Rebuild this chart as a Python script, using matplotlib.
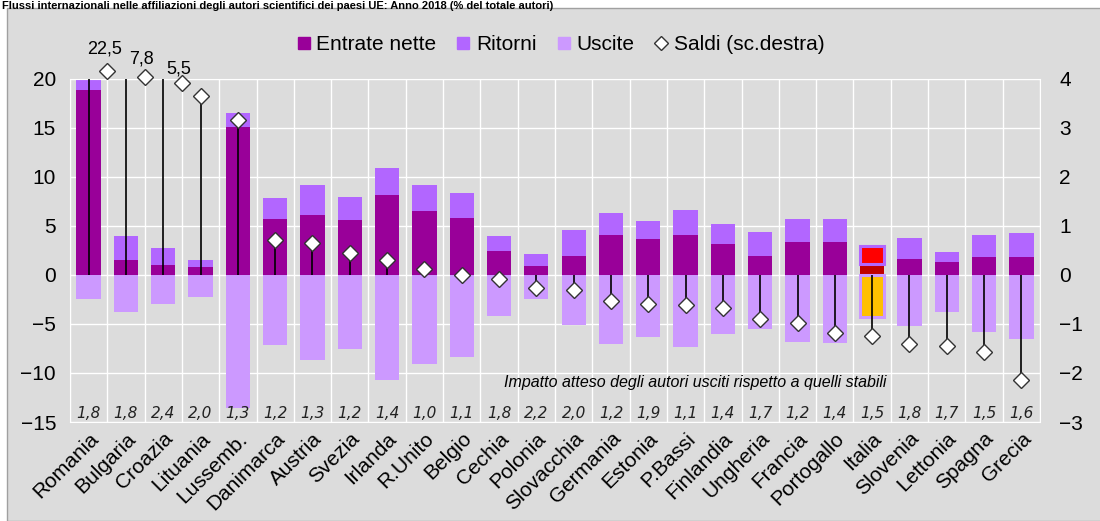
import matplotlib.pyplot as plt
import numpy as np
from matplotlib.lines import Line2D
from matplotlib.patches import Rectangle

plt.rcParams['font.family'] = ['Liberation Sans', 'DejaVu Sans']

# valori (% del totale autori)
paesi = ['Romania', 'Bulgaria', 'Croazia', 'Lituania', 'Lussemb.', 'Danimarca', 'Austria',
         'Svezia', 'Irlanda', 'R.Unito', 'Belgio', 'Cechia', 'Polonia', 'Slovacchia',
         'Germania', 'Estonia', 'P.Bassi', 'Finlandia', 'Ungheria', 'Francia', 'Portogallo',
         'Italia', 'Slovenia', 'Lettonia', 'Spagna', 'Grecia']
entrate = [18.8, 1.5, 1.0, 0.75, 15.1, 5.7, 6.1, 5.6, 8.1, 6.5, 5.8, 2.4, 0.9, 1.9,
           4.1, 3.6, 4.1, 3.1, 1.9, 3.3, 3.3, 1.1, 1.6, 1.3, 1.8, 1.8]
ritorni = [2.0, 2.5, 1.7, 0.75, 1.4, 2.1, 3.1, 2.3, 2.8, 2.6, 2.5, 1.6, 1.2, 2.7,
           2.2, 1.9, 2.5, 2.1, 2.5, 2.4, 2.4, 1.8, 2.1, 1.0, 2.3, 2.45]
uscite = [-2.5, -3.8, -3.0, -2.25, -13.6, -7.2, -8.65, -7.6, -10.7, -9.05, -8.4, -4.2, -2.5, -5.1,
          -7.1, -6.3, -7.35, -6.0, -5.55, -6.8, -6.95, -4.3, -5.25, -3.8, -5.8, -6.55]
saldi = [22.5, 7.8, 5.5, 3.65, 3.15, 0.7, 0.65, 0.45, 0.3, 0.12, 0.0, -0.08, -0.26, -0.3,
         -0.54, -0.59, -0.62, -0.67, -0.91, -0.99, -1.18, -1.25, -1.41, -1.46, -1.57, -2.15]
rapporti = ['1,8', '1,8', '2,4', '2,0', '1,3', '1,2', '1,3', '1,2', '1,4', '1,0', '1,1', '1,8', '2,2',
            '2,0', '1,2', '1,9', '1,1', '1,4', '1,7', '1,2', '1,4', '1,5', '1,8', '1,7', '1,5', '1,6']

C_ENT, C_RIT, C_USC = '#990099', '#b266ff', '#cc99ff'
BG = '#dcdcdc'
x = np.arange(len(paesi))
w = 0.65
ita = paesi.index('Italia')

fig = plt.figure(figsize=(11, 5.21), dpi=100)
fig.patches.append(Rectangle((7 / 1100, 0), 1.0, 1 - 8 / 521, transform=fig.transFigure,
                             facecolor=BG, edgecolor='#a0a0a0', lw=1, zorder=-10))
fig.text(0.002, 0.999, 'Flussi internazionali nelle affiliazioni degli autori scientifici dei paesi UE: '
         'Anno 2018 (% del totale autori)', fontsize=8, fontweight='bold', va='top')

ax = fig.add_axes([0.0636, 0.190, 0.8819, 0.6593])
ax.set_facecolor(BG)

ent_col = [C_ENT] * len(x)
rit_col = [C_RIT] * len(x)
usc_col = [C_USC] * len(x)
lws = [0] * len(x)
ent_col[ita], rit_col[ita], usc_col[ita] = '#c00000', '#ff0000', '#ffc000'
lws[ita] = 2.2

ax.bar(x, entrate, w, color=ent_col, lw=0, zorder=2)
ax.bar(x, ritorni, w, bottom=entrate, color=rit_col, edgecolor=C_RIT, linewidth=lws, zorder=2)
ax.bar(x, uscite, w, color=usc_col, edgecolor=C_USC, linewidth=lws, zorder=2)

ax.set_xlim(-0.5, len(x) - 0.5)
ax.set_ylim(-15, 20)
ax.set_yticks(range(-15, 21, 5))
ax.set_xticks(x)
ax.set_xticklabels(paesi, rotation=45, ha='right', rotation_mode='anchor', fontsize=15)
ax.set_xticks(np.arange(-0.5, len(x), 1), minor=True)
ax.grid(which='minor', axis='x', color='white', lw=1)
ax.grid(which='major', axis='y', color='white', lw=1)
ax.set_axisbelow(True)
ax.tick_params(which='both', length=0)
ax.tick_params(axis='y', labelsize=15, pad=10)
ax.tick_params(axis='x', pad=5)
for s in ax.spines.values():
    s.set_color('white')

for i, r in enumerate(rapporti):
    ax.text(i, 0.026, r, transform=ax.get_xaxis_transform(), ha='center', va='center',
            fontsize=11, style='italic', family='DejaVu Sans', color='#222222')
ax.text(0.644, 0.114, 'Impatto atteso degli autori usciti rispetto a quelli stabili',
        transform=ax.transAxes, ha='center', va='center', style='italic', fontsize=11.5)

# saldi sulla scala destra
ax2 = ax.twinx()
ax2.set_ylim(-3, 4)
ax2.set_yticks(range(-3, 5))
ax2.tick_params(length=0, labelsize=15, pad=14)
for s in ax2.spines.values():
    s.set_visible(False)

sal = np.array(saldi)
ymax = ax2.get_ylim()[1]
ax2.vlines(x, 0, np.minimum(sal, ymax), color='black', lw=1.2, zorder=3)
dk = dict(marker='D', ms=8, mfc='white', mec='#333333', mew=1, ls='none', zorder=5, clip_on=False)
inr = sal <= ymax
ax2.plot(x[inr], sal[inr], **dk)
for k, i in enumerate(np.where(~inr)[0]):
    yo = ymax + 0.15 - 0.12 * k
    ax2.plot(i + 0.5, yo, **dk)
    ax2.annotate('{:.1f}'.format(sal[i]).replace('.', ','), (i + 0.5, yo), xytext=(-2, 16 - 3 * k),
                 textcoords='offset points', ha='center', va='center', fontsize=13,
                 annotation_clip=False)

handles = [Line2D([], [], marker='s', ls='none', ms=9, color=C_ENT),
           Line2D([], [], marker='s', ls='none', ms=9, color=C_RIT),
           Line2D([], [], marker='s', ls='none', ms=9, color=C_USC),
           Line2D([], [], marker='D', ls='none', ms=7, mfc='white', mec='#333333', mew=1)]
ax2.legend(handles, ['Entrate nette', 'Ritorni', 'Uscite', 'Saldi (sc.destra)'], loc='center',
           bbox_to_anchor=(0.505, 1.099), ncol=4, frameon=False, fontsize=15, handlelength=0.8,
           handletextpad=0.2, columnspacing=0.9)

fig.savefig('out.png', dpi=100)
